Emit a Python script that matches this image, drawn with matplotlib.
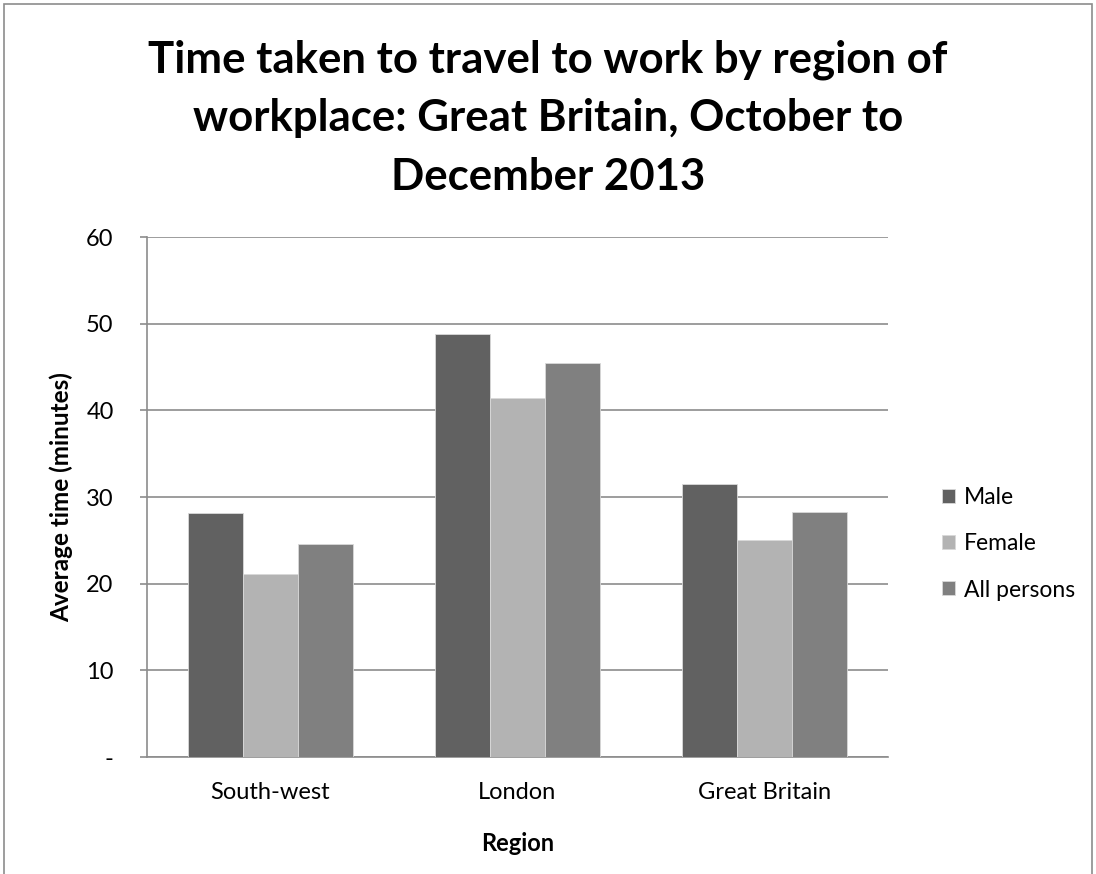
import matplotlib
matplotlib.use("Agg")
import matplotlib.pyplot as plt
import numpy as np
from matplotlib.patches import Rectangle

plt.rcParams["font.family"] = ["Lato", "DejaVu Sans"]

REGIONS = ["South-west", "London", "Great Britain"]
SERIES = ["Male", "Female", "All persons"]
MALE = [28.2, 48.8, 31.5]
FEMALE = [21.1, 41.4, 25.0]
ALL_PERSONS = [24.6, 45.5, 28.3]
COLORS = ["#616161", "#b3b3b3", "#808080"]
YTICKS = [0, 10, 20, 30, 40, 50, 60]
YTICK_LABELS = ["-", "10", "20", "30", "40", "50", "60"]
TITLE_LINES = ["Time taken to travel to work by region of",
               "workplace: Great Britain, October to",
               "December 2013"]

W, H = 1096, 874
fig = plt.figure(figsize=(W / 100, H / 100), dpi=100)
ax = fig.add_axes([147 / W, 1 - 757 / H, (888 - 147) / W, (757 - 237) / H])

x = np.arange(len(REGIONS))
w = 0.224
for i, (name, vals) in enumerate(zip(SERIES, [MALE, FEMALE, ALL_PERSONS])):
    ax.bar(x + (i - 1) * w, vals, w, color=COLORS[i], label=name,
           edgecolor="#d9d9d9", linewidth=0.6, zorder=3)

ax.set_xlim(-0.5, 2.5)
ax.set_ylim(0, 60)
ax.set_yticks(YTICKS)
ax.set_yticklabels(YTICK_LABELS, fontsize=17)
ax.set_xticks(x)
ax.set_xticklabels(REGIONS, fontsize=17)
ax.tick_params(axis="x", length=0, pad=18)
ax.tick_params(axis="y", length=5, color="#8c8c8c", width=1.2, pad=19)
ax.yaxis.grid(True, color="#8c8c8c", linewidth=1.2, zorder=0)
for s in ["top", "right"]:
    ax.spines[s].set_visible(False)
for s in ["left", "bottom"]:
    ax.spines[s].set_color("#8c8c8c")
    ax.spines[s].set_linewidth(1.2)

ax.set_xlabel("Region", fontsize=17, fontweight="bold")
ax.xaxis.set_label_coords(0.5, -0.145)
ax.set_ylabel("Average time (minutes)", fontsize=17.5, fontweight="bold")
ax.yaxis.set_label_coords(-0.1, 0.5)

# title drawn line by line on the measured baselines
for line, base in zip(TITLE_LINES, [72, 131, 190]):
    fig.text(0.5, 1 - base / H, line, ha="center", va="baseline",
             fontsize=31.5, fontweight="bold")

ax.legend(loc="center left", bbox_to_anchor=(1.045, 0.41), frameon=False, fontsize=16.5,
          handlelength=0.55, handleheight=0.55, labelspacing=1.1, handletextpad=0.4)

fig.patches.append(Rectangle((4 / W, -0.1), 1088 / W, 1.1 - 4 / H,
                             transform=fig.transFigure, fill=False,
                             edgecolor="#8c8c8c", linewidth=1.2))

fig.savefig("out.png", dpi=100)
